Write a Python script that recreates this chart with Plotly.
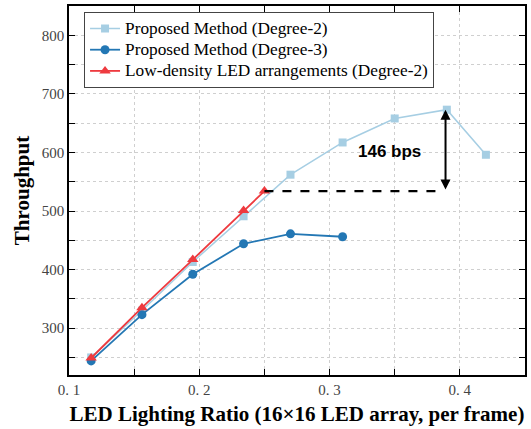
import plotly.graph_objects as go

# Data
x_deg2 = [0.117, 0.156, 0.195, 0.234, 0.27, 0.31, 0.35, 0.39, 0.42]
y_deg2 = [250, 330, 413, 491, 562, 617, 658, 673, 596]
x_deg3 = [0.117, 0.156, 0.195, 0.234, 0.27, 0.31]
y_deg3 = [244, 323, 392, 444, 461, 456]
x_low = [0.117, 0.156, 0.195, 0.234, 0.25]
y_low = [249, 335, 417, 501, 534]
x_ticks = [0.1, 0.2, 0.3, 0.4]
x_ticktext = ["0. 1", "0. 2", "0. 3", "0. 4"]
y_ticks = [300, 400, 500, 600, 700, 800]
names = ["Proposed Method (Degree-2)", "Proposed Method (Degree-3)",
         "Low-density LED arrangements (Degree-2)"]
gap_label = "146 bps"
gap_x = 0.389
gap_top = 673
gap_bottom = 534
dash_x = [0.25, 0.382]

c_light = "#a6cee3"
c_dark = "#2377b4"
c_red = "#ee3a3f"
SERIF = "Liberation Serif"


def big(s):
    return '<span style="font-size:17.3px">' + s + '</span>'


fig = go.Figure()
fig.add_trace(go.Scatter(x=x_deg2, y=y_deg2, mode="lines+markers",
                         name=big(names[0]),
                         line=dict(color=c_light, width=1.5),
                         marker=dict(symbol="square", size=8, color=c_light)))
fig.add_trace(go.Scatter(x=x_deg3, y=y_deg3, mode="lines+markers",
                         name=big(names[1]),
                         line=dict(color=c_dark, width=1.8),
                         marker=dict(symbol="circle", size=9, color=c_dark)))
fig.add_trace(go.Scatter(x=x_low, y=y_low, mode="lines+markers",
                         name=big(names[2]),
                         line=dict(color=c_red, width=1.8),
                         marker=dict(symbol="triangle-up", size=10, color=c_red)))

# dashed reference line
fig.add_trace(go.Scatter(x=dash_x, y=[gap_bottom, gap_bottom], mode="lines",
                         line=dict(color="black", width=2.2, dash="dash"),
                         showlegend=False, hoverinfo="skip"))

# double-headed arrow
fig.add_annotation(x=gap_x, y=gap_top, ax=gap_x, ay=gap_bottom, xref="x", yref="y",
                   axref="x", ayref="y", text="", showarrow=True,
                   arrowhead=2, arrowside="end+start", arrowsize=1, arrowwidth=2,
                   arrowcolor="black")
fig.add_annotation(x=0.346, y=602, text="<b>" + gap_label + "</b>", showarrow=False,
                   font=dict(family="Liberation Sans", size=17, color="black"))

axis_common = dict(
    showline=True, linecolor="black", linewidth=1.5, mirror="allticks",
    ticks="inside", ticklen=6, tickwidth=1.3, tickcolor="black",
    showgrid=True, gridcolor="#cfcfcf", griddash="dot", gridwidth=1,
    zeroline=False,
    tickfont=dict(family=SERIF, size=15, color="#444"),
)

fig.update_xaxes(range=[0.1, 0.45], tickvals=x_ticks, ticktext=x_ticktext,
                 minor=dict(dtick=0.05, ticks="inside", ticklen=6, tickcolor="black",
                            showgrid=True, gridcolor="#cfcfcf", griddash="dot"),
                 title=dict(text="<b>LED Lighting Ratio (16×16 LED array, per frame)</b>",
                            font=dict(family=SERIF, size=21, color="black"),
                            standoff=10),
                 **axis_common)
fig.update_yaxes(range=[220, 850], tickvals=y_ticks,
                 minor=dict(dtick=50, tick0=0, ticks="inside", ticklen=6, tickcolor="black",
                            showgrid=True, gridcolor="#cfcfcf", griddash="dot"),
                 title=dict(text="<b>Throughput</b>",
                            font=dict(family=SERIF, size=21, color="black"),
                            standoff=6),
                 **axis_common)

fig.update_layout(
    width=531, height=429,
    margin=dict(l=69, r=4, t=6, b=54),
    font=dict(family=SERIF),
    plot_bgcolor="white", paper_bgcolor="white",
    legend=dict(x=0.033, y=0.984, xanchor="left", yanchor="top",
                bgcolor="white", bordercolor="#444", borderwidth=1,
                font=dict(family=SERIF, size=14, color="black"),
                tracegroupgap=0, itemwidth=30),
)

fig.write_html("out.html")
